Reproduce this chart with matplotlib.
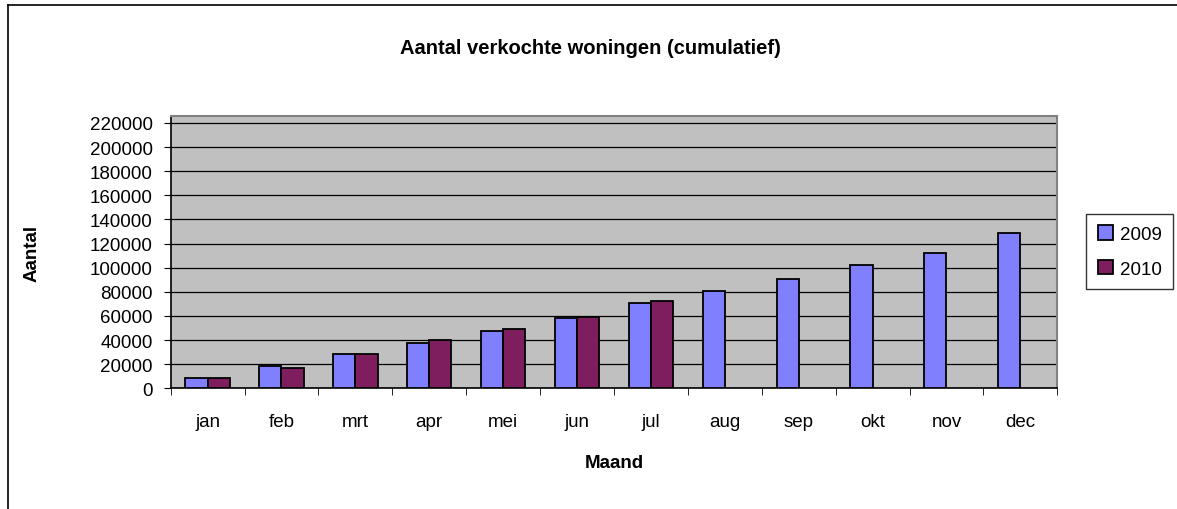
import numpy as np
import matplotlib
matplotlib.use('Agg')
import matplotlib.pyplot as plt
from matplotlib.lines import Line2D

plt.rcParams['font.family'] = ['Liberation Sans', 'DejaVu Sans']

months = ['jan', 'feb', 'mrt', 'apr', 'mei', 'jun', 'jul', 'aug', 'sep', 'okt', 'nov', 'dec']
sales_2009 = [8300, 18200, 28200, 37600, 47800, 58000, 70500, 80700, 90600, 102000, 112200, 128500]
sales_2010 = [8800, 16600, 28200, 40000, 49200, 59400, 72100]
yticks = list(range(0, 220001, 20000))

fig = plt.figure(figsize=(11.77, 5.10), dpi=100)
ax = fig.add_axes([0.145, 0.2367, 0.7533, 0.5345])

x = np.arange(len(months))
w = 0.3
ax.bar(x - w / 2, sales_2009, w, color='#8080FF', edgecolor='black', linewidth=1.3, label='2009', zorder=3)
ax.bar(np.arange(len(sales_2010)) + w / 2, sales_2010, w, color='#7E1E5E', edgecolor='black',
       linewidth=1.3, label='2010', zorder=3)

ax.set_facecolor('#C0C0C0')
ax.set_xlim(-0.5, len(months) - 0.5)
ax.set_ylim(0, 226000)
ax.set_yticks(yticks)
ax.set_yticklabels([str(v) for v in yticks], fontsize=13.5)
ax.yaxis.grid(True, color='black', linewidth=0.9, zorder=1)
ax.set_axisbelow(True)

ax.set_xticks(x)
ax.set_xticklabels(months, fontsize=13.5)
ax.set_xticks(np.arange(-0.5, len(months)), minor=True)
ax.tick_params(axis='x', which='major', length=0, pad=18)
ax.tick_params(axis='x', which='minor', length=5, color='black')
ax.tick_params(axis='y', length=5, pad=8)

for side in ['top', 'right']:
    ax.spines[side].set_color('#808080')
    ax.spines[side].set_linewidth(1.5)
for side in ['left', 'bottom']:
    ax.spines[side].set_color('black')
    ax.spines[side].set_linewidth(1.2)

ax.set_xlabel('Maand', fontsize=13.5, fontweight='bold')
ax.xaxis.set_label_coords(0.5, -(455 - 389.3) / 272.6)
ax.set_ylabel('Aantal', fontsize=13.5, fontweight='bold')
ax.yaxis.set_label_coords(-(170.7 - 41) / 886, 0.5)
fig.text(0.5015, 1 - 48 / 510, 'Aantal verkochte woningen (cumulatief)', ha='center', va='center',
         fontsize=14.5, fontweight='bold')

leg = fig.legend(loc='center left', bbox_to_anchor=(1077 / 1177, 1 - 252.5 / 510), fontsize=13.5,
                 frameon=True, fancybox=False, edgecolor='black', handlelength=0.8, handleheight=0.8,
                 handletextpad=0.4, labelspacing=0.9, borderpad=0.6)
leg.get_frame().set_linewidth(1.0)

# chart border (left and top visible)
fig.add_artist(Line2D([8 / 1177, 8 / 1177], [0, 1 - 6 / 510], transform=fig.transFigure, color='black', lw=1.2))
fig.add_artist(Line2D([8 / 1177, 1], [1 - 6 / 510, 1 - 6 / 510], transform=fig.transFigure, color='black', lw=1.2))

fig.savefig('out.png', dpi=100)
